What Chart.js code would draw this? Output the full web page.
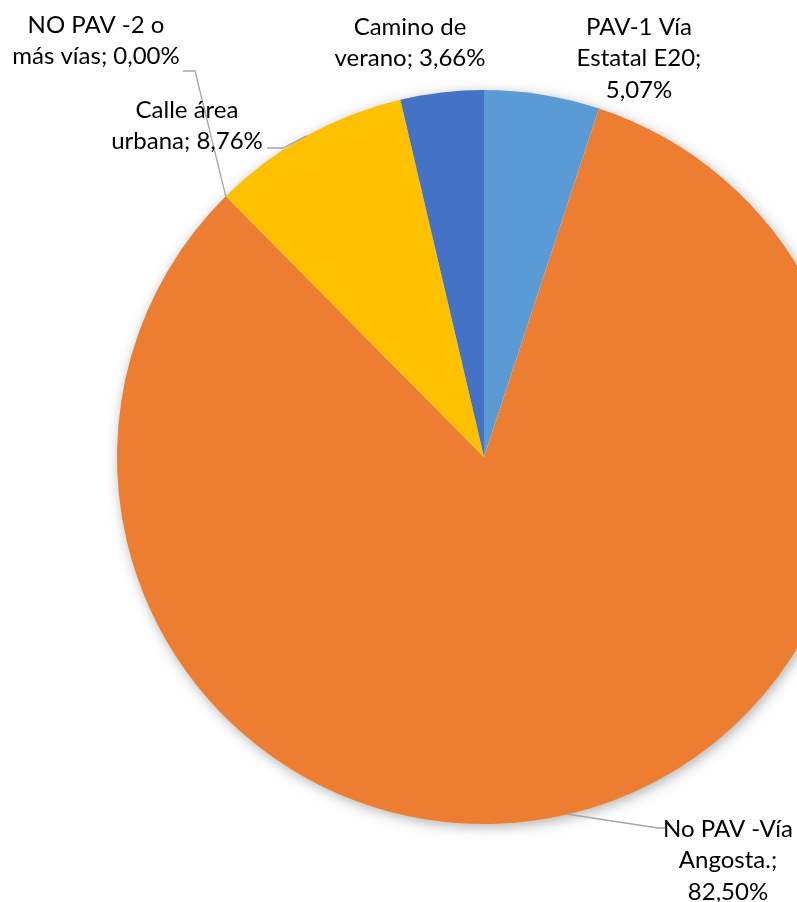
<!DOCTYPE html>
<html>
<head>
<meta charset="utf-8">
<script src="https://cdn.jsdelivr.net/npm/chart.js@4"></script>
<style>
  html, body { margin: 0; padding: 0; background: #fff; overflow: hidden; }
  #wrap { width: 968px; height: 902px; }
</style>
</head>
<body>
<div id="wrap"><canvas id="mychart" width="968" height="902"></canvas></div>
<script>
let categories = ['PAV-1 Vía Estatal E20', 'No PAV -Vía Angosta.', 'NO PAV -2 o más vías', 'Calle área urbana', 'Camino de verano'];
let values = [5.07, 82.50, 0.00, 8.76, 3.66];
let valueLabels = ['5,07%', '82,50%', '0,00%', '8,76%', '3,66%'];
let colors = ['#5B9BD5', '#ED7D31', '#A5A5A5', '#FFC000', '#4472C4'];

// label text lines + where they sit, and leader line elbow (null = no leader)
let labelLines = [
    ['PAV-1 Vía', 'Estatal E20;', '5,07%'],
    ['No PAV -Vía', 'Angosta.;', '82,50%'],
    ['NO PAV -2 o', 'más vías; 0,00%'],
    ['Calle área', 'urbana; 8,76%'],
    ['Camino de', 'verano; 3,66%']
];
let labelPos = [
    { x: 639, y: 27 },
    { x: 728, y: 829 },
    { x: 96, y: 25 },
    { x: 187, y: 110 },
    { x: 410, y: 27 }
];
let leaders = [
    null,
    { elbow: [658, 828], end: [666, 828] },
    { elbow: [195, 71], end: [183, 71], angleAt: 'start' },
    { elbow: [283, 148], end: [267, 148] },
    null
];

let shadowPlugin = {
    id: 'pieShadow',
    beforeDatasetsDraw(chart) {
        let arc = chart.getDatasetMeta(0).data[0];
        let c = chart.ctx;
        c.save();
        c.shadowColor = 'rgba(0,0,0,0.35)';
        c.shadowBlur = 14;
        c.shadowOffsetX = 2;
        c.shadowOffsetY = 3;
        c.fillStyle = '#fff';
        c.beginPath();
        c.arc(arc.x, arc.y, arc.outerRadius - 1, 0, Math.PI * 2);
        c.fill();
        c.restore();
    }
};

let labelPlugin = {
    id: 'sliceLabels',
    afterDatasetsDraw(chart) {
        let c = chart.ctx;
        let meta = chart.getDatasetMeta(0);
        c.save();
        c.strokeStyle = '#A6A6A6';
        c.lineWidth = 1.3;
        meta.data.forEach((arc, i) => {
            let ld = leaders[i];
            if (!ld) return;
            let a = ld.angleAt === 'start' ? arc.startAngle : (arc.startAngle + arc.endAngle) / 2;
            let px = arc.x + Math.cos(a) * arc.outerRadius;
            let py = arc.y + Math.sin(a) * arc.outerRadius;
            c.beginPath();
            c.moveTo(px, py);
            c.lineTo(ld.elbow[0], ld.elbow[1]);
            c.lineTo(ld.end[0], ld.end[1]);
            c.stroke();
        });
        c.fillStyle = '#000';
        c.font = '24px Lato';
        c.textAlign = 'center';
        c.textBaseline = 'middle';
        labelLines.forEach((lines, i) => {
            lines.forEach((t, j) => {
                c.fillText(t, labelPos[i].x, labelPos[i].y + j * 31.5);
            });
        });
        c.restore();
    }
};

let ctx = document.querySelector('#mychart').getContext('2d');
let myChart = new Chart(ctx, {
    type: 'pie',
    data: {
        labels: categories,
        datasets: [{
            data: values,
            backgroundColor: colors,
            borderWidth: 0
        }]
    },
    options: {
        responsive: false,
        animation: false,
        layout: { padding: { top: 90, bottom: 78, left: 0, right: 0 } },
        plugins: {
            legend: { display: false },
            tooltip: { enabled: false },
            title: { display: false }
        }
    },
    plugins: [shadowPlugin, labelPlugin]
});
</script>
</body>
</html>
